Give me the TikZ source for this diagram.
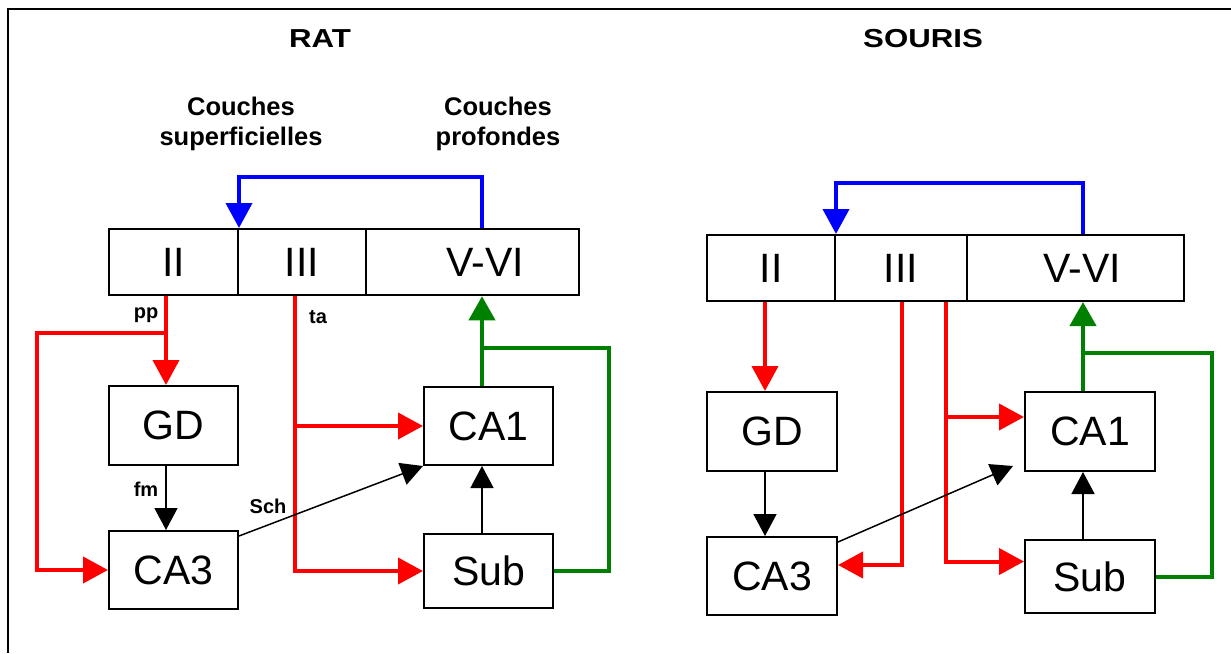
\documentclass[tikz,border=0pt]{standalone}
\usepackage{graphicx}
\usepackage{fontspec}
\setmainfont{Liberation Sans}
\usetikzlibrary{arrows.meta,calc}
\definecolor{myred}{RGB}{255,0,0}
\definecolor{mygreen}{RGB}{0,128,0}
\definecolor{myblue}{RGB}{0,0,255}
\begin{document}
\begin{tikzpicture}[x=1pt,y=-1pt,
  cell/.style={draw=black,line width=2pt,inner sep=0pt,font=\fontsize{41}{41}\selectfont},
  ttl/.style={font=\bfseries\fontsize{26}{30}\selectfont,inner sep=0pt},
  hd/.style={font=\bfseries\fontsize{25.5}{30}\selectfont,inner sep=0pt,align=center},
  lab/.style={font=\bfseries\fontsize{20}{20}\selectfont,inner sep=0pt},
  redarrow/.style={draw=myred,line width=4pt,-{Triangle[length=25pt,width=26pt]}},
  redline/.style={draw=myred,line width=4pt},
  greenarrow/.style={draw=mygreen,line width=4pt,-{Triangle[length=24pt,width=26pt]}},
  greenline/.style={draw=mygreen,line width=4pt},
  bluearrow/.style={draw=myblue,line width=4pt,-{Triangle[length=25pt,width=26pt]}},
  blackarrow/.style={draw=black,line width=1.5pt,-{Triangle[length=22pt,width=23pt]}},
]
\useasboundingbox (0,0) rectangle (1231,653);
% frame
\draw[line width=2.5pt] (8,653) -- (8,9) -- (1231,9);

% ---------------- RAT ----------------
\node[ttl] (tRat) at (320,38.5) {\scalebox{1.2}[1]{RAT}};
\node[hd] (hSup) at (241,124) {Couches\\superficielles};
\node[hd] (hPro) at (498,124) {Couches\\profondes};

\node[cell,minimum width=129pt,minimum height=66pt] (rII) at (173.5,262) {II};
\node[cell,minimum width=128pt,minimum height=66pt] (rIII) at (302,262) {III};
\node[cell,minimum width=213pt,minimum height=66pt,line width=2.5pt] (rV) at (472.5,262) {\hspace*{25pt}V-VI};
\node[cell,minimum width=129pt,minimum height=79pt] (rGD) at (173.5,425.5) {GD};
\node[cell,minimum width=129pt,minimum height=78pt] (rCA3) at (173.5,570) {CA3};
\node[cell,minimum width=129pt,minimum height=78pt] (rCA1) at (488.5,426) {CA1};
\node[cell,minimum width=129pt,minimum height=74pt] (rSub) at (488.5,571) {Sub};

\coordinate (rxa) at (166,0);
\coordinate (rxt) at (295,0);
\coordinate (rxg) at (482,0);
\coordinate (rblue) at (482,177);
\coordinate (rpp) at (166,333);
\coordinate (rleft) at (37,333);
\coordinate (rgb) at (482,348);
\coordinate (rgr) at (609,348);

\draw[bluearrow] (rV.north -| rblue) -- (rblue) -| (rII.north east);
\draw[redarrow] (rII.south -| rxa) -- (rGD.north -| rxa);
\draw[redarrow] (rpp) -- (rleft) |- (rCA3.west);
\draw[blackarrow] (rGD.south -| rxa) -- (rCA3.north -| rxa);
\draw[redarrow] (rIII.south -| rxt) |- (rSub.west);
\draw[redarrow] (rCA1.west -| rxt) -- (rCA1.west);
\draw[blackarrow] ([yshift=-6pt]rCA3.north east) -- (rCA1.south west);
\draw[blackarrow] (rSub.north -| rxg) -- (rCA1.south -| rxg);
\draw[greenarrow] (rCA1.north -| rxg) -- (rV.south -| rxg);
\draw[greenline] (rgb) -- (rgr) |- (rSub.east);

\node[lab] (lpp) at (146,315) {pp};
\node[lab] (lta) at (318,317) {ta};
\node[lab] (lfm) at (146,489) {fm};
\node[lab] (lsch) at (268,506) {Sch};

% ---------------- SOURIS ----------------
\node[ttl] (tSou) at (923,38.5) {\scalebox{1.2}[1]{SOURIS}};

\node[cell,minimum width=128pt,minimum height=66pt] (mII) at (771,268) {II};
\node[cell,minimum width=132pt,minimum height=66pt] (mIII) at (901,268) {III};
\node[cell,minimum width=217pt,minimum height=66pt] (mV) at (1075.5,268) {\hspace*{13pt}V-VI};
\node[cell,minimum width=130pt,minimum height=79pt] (mGD) at (772,431.5) {GD};
\node[cell,minimum width=130pt,minimum height=78pt] (mCA3) at (772,576) {CA3};
\node[cell,minimum width=130pt,minimum height=79pt] (mCA1) at (1090,431.5) {CA1};
\node[cell,minimum width=130pt,minimum height=73pt] (mSub) at (1090,576.5) {Sub};

\coordinate (mxa) at (765,0);
\coordinate (mx1) at (902,0);
\coordinate (mx2) at (946,0);
\coordinate (mxg) at (1083,0);
\coordinate (mblue) at (1083,183);
\coordinate (mgb) at (1083,353);
\coordinate (mgr) at (1212,353);

\draw[bluearrow] (mV.north -| mblue) -- (mblue) -| (mII.north east);
\draw[redarrow] (mII.south -| mxa) -- (mGD.north -| mxa);
\draw[blackarrow] (mGD.south -| mxa) -- (mCA3.north -| mxa);
\draw[redarrow] (mIII.south -| mx1) |- ([yshift=11pt]mCA3.east);
\draw[redarrow] (mIII.south -| mx2) |- ([yshift=15pt]mSub.west);
\draw[redarrow] ([yshift=14.5pt]mCA1.west -| mx2) -- ([yshift=14.5pt]mCA1.west);
\draw[blackarrow] ([yshift=-6pt]mCA3.north east) -- ([xshift=-11pt,yshift=6pt]mCA1.south west);
\draw[blackarrow] (mSub.north -| mxg) -- (mCA1.south -| mxg);
\draw[greenarrow] (mCA1.north -| mxg) -- (mV.south -| mxg);
\draw[greenline] (mgb) -- (mgr) |- (mSub.east);
\end{tikzpicture}
\end{document}
